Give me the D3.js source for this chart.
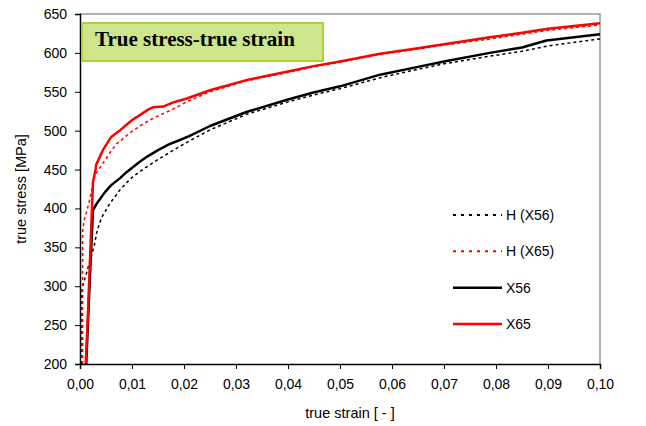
<!DOCTYPE html>
<html>
<head>
<meta charset="utf-8">
<script src="https://cdn.jsdelivr.net/npm/d3@7"></script>
<style>
  body { margin: 0; background: #fff; }
  svg { display: block; }
  .tick text { font-family: Arial, "Liberation Sans", sans-serif; font-size: 14px; fill: #000; }
</style>
</head>
<body>
<svg id="chart" width="646" height="426"></svg>
<script>
// ── data: [true strain, true stress MPa] ──
const h56 = [[0.0002,200],[0.0002,285],[0.0005,300],[0.0013,318],[0.0020,335],[0.0027,351],[0.0032,368],
  [0.0037,380],[0.0042,389],[0.0050,398],[0.0057,406],[0.0066,414],[0.0076,423],[0.0088,432],[0.0102,441],
  [0.0125,452],[0.0150,463],[0.0175,473],[0.0200,483],[0.0250,501],[0.0320,521],[0.0400,537],[0.0450,546],
  [0.0500,554],[0.0577,568],[0.0650,579],[0.0700,586],[0.0790,596],[0.0850,602],[0.0900,609],[0.1000,618]];

const h65 = [[0.0005,200],[0.0005,370],[0.0008,385],[0.0012,394],[0.0020,415],[0.0026,437],[0.0031,445],
  [0.0041,455],[0.0058,472],[0.0070,483],[0.0078,487],[0.0090,494],[0.0102,500],[0.0120,508],[0.0138,515],
  [0.0160,522],[0.0180,528],[0.0205,537],[0.0250,550],[0.0320,564],[0.0400,575],[0.0450,582],[0.0500,588],
  [0.0577,598],[0.0650,605],[0.0700,610],[0.0790,618],[0.0850,624],[0.0900,629],[0.1000,636]];

const x56 = [[0.0012,200],[0.0016,265],[0.0021,340],[0.0025,398],[0.0034,408],[0.0048,421],[0.0060,430],
  [0.0077,439],[0.0090,447],[0.0115,460],[0.0130,467],[0.0150,475],[0.0170,482],[0.0192,488],[0.0210,493],
  [0.0250,506],[0.0320,524],[0.0400,540],[0.0449,549],[0.0500,557],[0.0577,572],[0.0650,582],[0.0700,589],
  [0.0788,600],[0.0850,607],[0.0897,616],[0.1000,624]];

const x65 = [[0.0011,200],[0.0015,260],[0.0019,330],[0.0023,400],[0.0025,434],[0.0030,450],[0.0031,456],
  [0.0044,475],[0.0060,492],[0.0070,497],[0.0078,501],[0.0090,508],[0.0101,514],[0.0115,520],[0.0131,527],
  [0.0140,530],[0.0160,531],[0.0178,536],[0.0204,541],[0.0250,552],[0.0320,565],[0.0400,576],[0.0449,583],
  [0.0500,589],[0.0577,599],[0.0650,606],[0.0700,611],[0.0788,620],[0.0850,626],[0.0900,631],[0.1000,638]];

const seriesNames = ["H (X56)", "H (X65)", "X56", "X65"];
const xTicks = [0, 0.01, 0.02, 0.03, 0.04, 0.05, 0.06, 0.07, 0.08, 0.09, 0.10];
const yTicks = [200, 250, 300, 350, 400, 450, 500, 550, 600, 650];

// ── layout ──
const M = { left: 80, right: 600, top: 14, bottom: 364 };
const FONT = 'Arial, "Liberation Sans", sans-serif';

const series = [
  { name: seriesNames[0], data: h56, color: "#000", width: 1.5, dash: "3,3" },
  { name: seriesNames[1], data: h65, color: "#f00", width: 1.5, dash: "3,3" },
  { name: seriesNames[2], data: x56, color: "#000", width: 2.5, dash: null },
  { name: seriesNames[3], data: x65, color: "#f00", width: 2.5, dash: null }
];

const svg = d3.select("#chart");
const x = d3.scaleLinear().domain([0, 0.10]).range([M.left, M.right]);
const y = d3.scaleLinear().domain([200, 650]).range([M.bottom, M.top]);
const fmt = d3.formatLocale({ decimal: ",", thousands: ".", grouping: [3], currency: ["", ""] }).format(".2f");

// plot frame: gray top/right
svg.append("path")
  .attr("d", `M${M.left},${M.top}H${M.right}V${M.bottom}`)
  .attr("fill", "none").attr("stroke", "#999").attr("stroke-width", 1.5);

// curves
const g = svg.append("g");
const line = d3.line().x(d => x(d[0])).y(d => y(d[1]));
series.forEach(s => {
  g.append("path")
    .attr("d", line(s.data))
    .attr("fill", "none")
    .attr("stroke", s.color)
    .attr("stroke-width", s.width)
    .attr("stroke-dasharray", s.dash)
    .attr("stroke-linejoin", "round");
});

// axes
const xAxis = svg.append("g").attr("transform", `translate(0,${M.bottom})`)
  .call(d3.axisBottom(x).tickValues(xTicks).tickFormat(fmt).tickSizeOuter(0).tickSize(5).tickPadding(10));
const yAxis = svg.append("g").attr("transform", `translate(${M.left},0)`)
  .call(d3.axisLeft(y).tickValues(yTicks).tickSizeOuter(0).tickSize(5).tickPadding(8));
[xAxis, yAxis].forEach(a => {
  a.select(".domain").attr("stroke", "#000").attr("stroke-width", 1.5);
  a.selectAll(".tick line").attr("stroke", "#000").attr("stroke-width", 1);
});

// axis titles
svg.append("text")
  .attr("x", 350).attr("y", 418)
  .attr("text-anchor", "middle")
  .style("font-family", FONT).style("font-size", "14.5px")
  .text("true strain [ - ]");
svg.append("text")
  .attr("transform", `translate(26,${(M.top + M.bottom) / 2}) rotate(-90)`)
  .attr("text-anchor", "middle")
  .style("font-family", FONT).style("font-size", "14.5px")
  .text("true stress [MPa]");

// title box
svg.append("rect")
  .attr("x", 82).attr("y", 23).attr("width", 241).attr("height", 38)
  .attr("fill", "#cde58b").attr("stroke", "#a9d13a").attr("stroke-width", 2);
svg.append("text")
  .attr("x", 95).attr("y", 46)
  .style("font-family", '"Times New Roman", "Liberation Serif", serif')
  .style("font-size", "21px").style("font-weight", "bold")
  .text("True stress-true strain");

// legend
const legY = d3.scalePoint().domain(seriesNames).range([215, 324]);
const leg = svg.append("g");
series.forEach(s => {
  const yy = legY(s.name);
  leg.append("line")
    .attr("x1", 453).attr("x2", 502).attr("y1", yy).attr("y2", yy)
    .attr("stroke", s.color)
    .attr("stroke-width", s.dash ? 2 : 2.5)
    .attr("stroke-dasharray", s.dash ? "3,5" : null);
  leg.append("text")
    .attr("x", 506).attr("y", yy).attr("dy", "0.36em")
    .style("font-family", FONT).style("font-size", "14px")
    .text(s.name);
});
</script>
</body>
</html>
